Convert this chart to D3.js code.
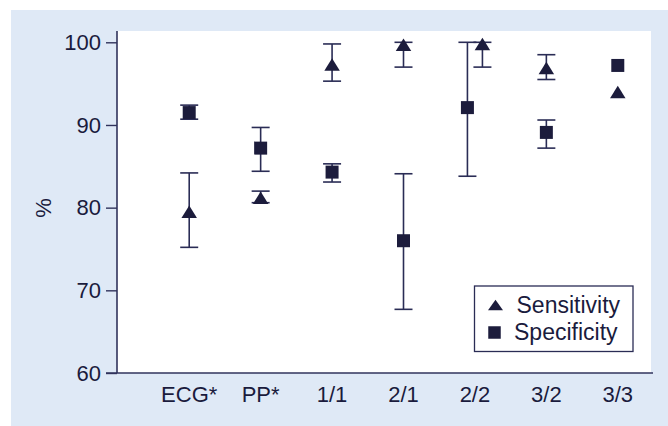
<!DOCTYPE html>
<html>
<head>
<meta charset="utf-8">
<script src="https://cdn.jsdelivr.net/npm/d3@7"></script>
<style>
  html, body { margin: 0; padding: 0; background: #ffffff; }
  svg { display: block; }
  text { font-family: "Liberation Sans", Arial, Helvetica, sans-serif; fill: #1a1b3d; }
</style>
</head>
<body>
<svg id="chart" width="668" height="426"></svg>
<script>
// Test categories and results (%), with 95% confidence limits
const categories = ["ECG*", "PP*", "1/1", "2/1", "2/2", "3/2", "3/3"];

const sensitivity = [79.5, 81.2, 97.3, 99.7, 99.8, 96.9, 94.0];
const sensLow     = [75.2, 80.6, 95.3, 97.0, 97.0, 95.5, null];
const sensHigh    = [84.2, 82.0, 99.8, 100.0, 100.0, 98.5, null];

const specificity = [91.5, 87.2, 84.3, 76.0, 92.1, 89.1, 97.2];
const specLow     = [90.7, 84.4, 83.1, 67.7, 83.8, 87.2, null];
const specHigh    = [92.4, 89.7, 85.3, 84.1, 100.0, 90.6, null];

const yTicks = [60, 70, 80, 90, 100];
const seriesNames = ["Sensitivity", "Specificity"];

const ink = "#1c1c3c";
const labelSize = 22;
const svg = d3.select("#chart");

// panel backgrounds
svg.append("rect").attr("x", 11).attr("y", 10).attr("width", 657).attr("height", 416)
  .attr("fill", "#dfe9f6");
svg.append("rect").attr("x", 117).attr("y", 31).attr("width", 534).attr("height", 342)
  .attr("fill", "#ffffff");

const x = d3.scaleBand().domain(categories).range([153.5, 653.5]);
const y = d3.scaleLinear().domain([60, 100]).range([373, 42.3]);

// axes
const yAxis = d3.axisLeft(y).tickValues(yTicks).tickSize(11).tickPadding(5);
const gy = svg.append("g").attr("transform", "translate(117,0)").call(yAxis);
gy.select(".domain").attr("d", "M0,31V373").attr("stroke", "#30335c").attr("stroke-width", 1.6);
gy.selectAll(".tick line").attr("stroke", "#30335c").attr("stroke-width", 1.4);
gy.selectAll(".tick text").attr("font-size", labelSize).attr("fill", "#1a1b3d")
  .style("font-family", "'Liberation Sans', Arial, sans-serif");

const xAxis = d3.axisBottom(x).tickSize(0).tickPadding(13);
const gx = svg.append("g").attr("transform", "translate(0,373)").call(xAxis);
gx.select(".domain").attr("d", "M106,0H653").attr("stroke", "#30335c").attr("stroke-width", 1.6);
gx.selectAll(".tick text").attr("font-size", labelSize).attr("fill", "#1a1b3d")
  .style("font-family", "'Liberation Sans', Arial, sans-serif");

svg.append("text")
  .attr("transform", "translate(51,208) rotate(-90)")
  .attr("text-anchor", "middle")
  .attr("font-size", labelSize)
  .text("%");

// build rows; dodge the two markers sideways where their intervals overlap
const rows = [];
categories.forEach((c, i) => {
  const a = [sensLow[i] ?? sensitivity[i], sensHigh[i] ?? sensitivity[i]];
  const b = [specLow[i] ?? specificity[i], specHigh[i] ?? specificity[i]];
  const overlap = a[0] <= b[1] && b[0] <= a[1];
  const shift = overlap ? 7.5 : 0;
  const cx = x(c) + x.bandwidth() / 2;
  rows.push({ s: "sens", cx: cx + shift, v: sensitivity[i], lo: sensLow[i], hi: sensHigh[i] });
  rows.push({ s: "spec", cx: cx - shift, v: specificity[i], lo: specLow[i], hi: specHigh[i] });
});

// error bars
const capW = 18;
const eb = svg.append("g").attr("stroke", "#2a2c55").attr("stroke-width", 1.6).attr("fill", "none");
rows.filter(d => d.lo != null && d.hi != null).forEach(d => {
  eb.append("line").attr("x1", d.cx).attr("x2", d.cx).attr("y1", y(d.hi)).attr("y2", y(d.lo));
  eb.append("line").attr("x1", d.cx - capW / 2).attr("x2", d.cx + capW / 2).attr("y1", y(d.hi)).attr("y2", y(d.hi));
  eb.append("line").attr("x1", d.cx - capW / 2).attr("x2", d.cx + capW / 2).attr("y1", y(d.lo)).attr("y2", y(d.lo));
});

// marker shapes
function triPath(w, h) {
  return `M0,${-h / 2}L${w / 2},${h / 2}L${-w / 2},${h / 2}Z`;
}
function sqPath(s) {
  return `M${-s / 2},${-s / 2}H${s / 2}V${s / 2}H${-s / 2}Z`;
}

svg.append("g").selectAll("path").data(rows).join("path")
  .attr("transform", d => `translate(${d.cx},${y(d.v)})`)
  .attr("d", d => d.s === "sens" ? triPath(15.5, 12.5) : sqPath(13))
  .attr("fill", ink);

// legend
const lg = svg.append("g");
lg.append("rect").attr("x", 474.5).attr("y", 286).attr("width", 158.5).attr("height", 65.5)
  .attr("fill", "#ffffff").attr("stroke", "#2a2c55").attr("stroke-width", 1.3);
lg.append("path").attr("transform", "translate(495.5,305)").attr("d", triPath(15, 10.5)).attr("fill", ink);
lg.append("path").attr("transform", "translate(494.5,332.5)").attr("d", sqPath(12.5)).attr("fill", ink);
lg.append("text").attr("x", 516.5).attr("y", 313).attr("font-size", 23).text(seriesNames[0]);
lg.append("text").attr("x", 514).attr("y", 340).attr("font-size", 23).text(seriesNames[1]);
</script>
</body>
</html>
